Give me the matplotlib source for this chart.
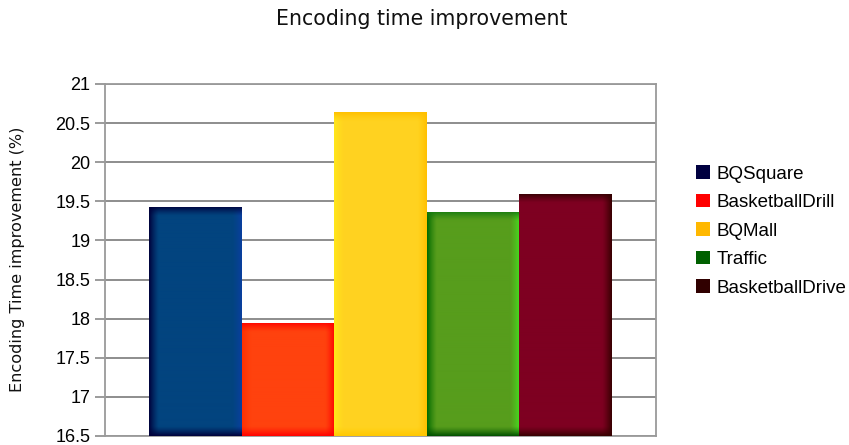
import numpy as np
import matplotlib
matplotlib.use("Agg")
import matplotlib.pyplot as plt
from matplotlib.colors import to_rgb
from matplotlib.patches import Patch

# Encoding-time improvement per test sequence (%)
sequences = ["BQSquare", "BasketballDrill", "BQMall", "Traffic", "BasketballDrive"]
improvement = [19.43, 17.95, 20.64, 19.37, 19.60]
y_ticks = [16.5, 17, 17.5, 18, 18.5, 19, 19.5, 20, 20.5, 21]
y_tick_labels = ["16.5", "17", "17.5", "18", "18.5", "19", "19.5", "20", "20.5", "21"]

# Fill colours: bar body and the shaded rim (left, right, top, bottom)
body_colors = ["#02447f", "#ff420e", "#ffd320", "#579d1c", "#7e0021"]
rim_colors = [
    ("#00003a", "#0a3fa0", "#00003a", "#00003a"),
    ("#ff3000", "#ff0000", "#ff0000", "#ff0000"),
    ("#ffe81a", "#ffc000", "#ffc000", "#ffc800"),
    ("#006a00", "#44e020", "#157a10", "#005000"),
    ("#7e0021", "#360000", "#300000", "#360000"),
]
legend_colors = ["#000040", "#ff0000", "#ffb800", "#006000", "#300000"]

W, H = 849, 445
fig = plt.figure(figsize=(W / 100, H / 100), dpi=100)
ax = fig.add_axes([105 / W, 1 - 436 / H, (656 - 105) / W, (436 - 84) / H])

x = np.arange(len(sequences))
bars = ax.bar(x, improvement, width=1.0, color=body_colors, linewidth=0, zorder=3)

ax.set_ylim(y_ticks[0], y_ticks[-1])
ax.set_xlim(-0.5 - 0.475, len(sequences) - 0.5 + 0.475)
ax.set_autoscale_on(False)

ax.set_yticks(y_ticks)
ax.set_yticklabels(y_tick_labels, fontsize=13, family="Liberation Sans")
ax.set_xticks([])
ax.tick_params(axis="y", direction="out", length=7, width=1.2, color="#8a8a8a", pad=3.5)
ax.grid(axis="y", color="#858585", linewidth=1.3, zorder=1)
ax.set_axisbelow(True)
for side in ("left", "right", "bottom", "top"):
    ax.spines[side].set_color("#9a9a9a")
    ax.spines[side].set_linewidth(1.3)


def shade_bar(rect, body, rims, band=10.0):
    """Paint a bar with a soft darker/lighter rim, clipped to the bar."""
    y_lo = max(rect.get_y(), ax.get_ylim()[0])
    x_lo, x_hi = rect.get_x(), rect.get_x() + rect.get_width()
    y_hi = rect.get_y() + rect.get_height()
    (px0, py0), (px1, py1) = ax.transData.transform([(x_lo, y_lo), (x_hi, y_hi)])
    w = max(int(round(px1 - px0)), 2)
    h = max(int(round(py1 - py0)), 2)
    img = np.ones((h, w, 3)) * np.array(to_rgb(body))
    xs = np.arange(w) + 0.5
    ys = np.arange(h) + 0.5
    dists = (xs[None, :], (w - xs)[None, :], ys[:, None], (h - ys)[:, None])
    for d, col in zip(dists, rims):
        wgt = np.clip(1 - d / band, 0, 1) ** 1.3
        wgt = np.broadcast_to(wgt, (h, w))[..., None]
        img = img * (1 - wgt) + np.array(to_rgb(col)) * wgt
    im = ax.imshow(img, extent=(x_lo, x_hi, y_lo, y_hi), origin="upper",
                   aspect="auto", interpolation="bilinear", zorder=4)
    im.set_clip_path(rect)


for rect, body, rims in zip(bars, body_colors, rim_colors):
    shade_bar(rect, body, rims)

fig.text(0.497, 1 - 19 / H, "Encoding time improvement", ha="center", va="center",
         fontsize=14.8, family="DejaVu Sans", color="#111111")
fig.text(18 / W, 1 - 259 / H, "Encoding Time improvement (%)", rotation=90,
         ha="center", va="center", fontsize=11.6, family="DejaVu Sans", color="#111111")

handles = [Patch(facecolor=c, edgecolor="none") for c in legend_colors]
fig.legend(handles, sequences, loc="center left", bbox_to_anchor=(696 / W, 1 - 231 / H),
           frameon=False, prop={"family": "Liberation Sans", "size": 13.5},
           handlelength=0.72, handleheight=0.72, handletextpad=0.4, labelspacing=0.6,
           borderaxespad=0, borderpad=0)

fig.savefig("out.png", dpi=100)
